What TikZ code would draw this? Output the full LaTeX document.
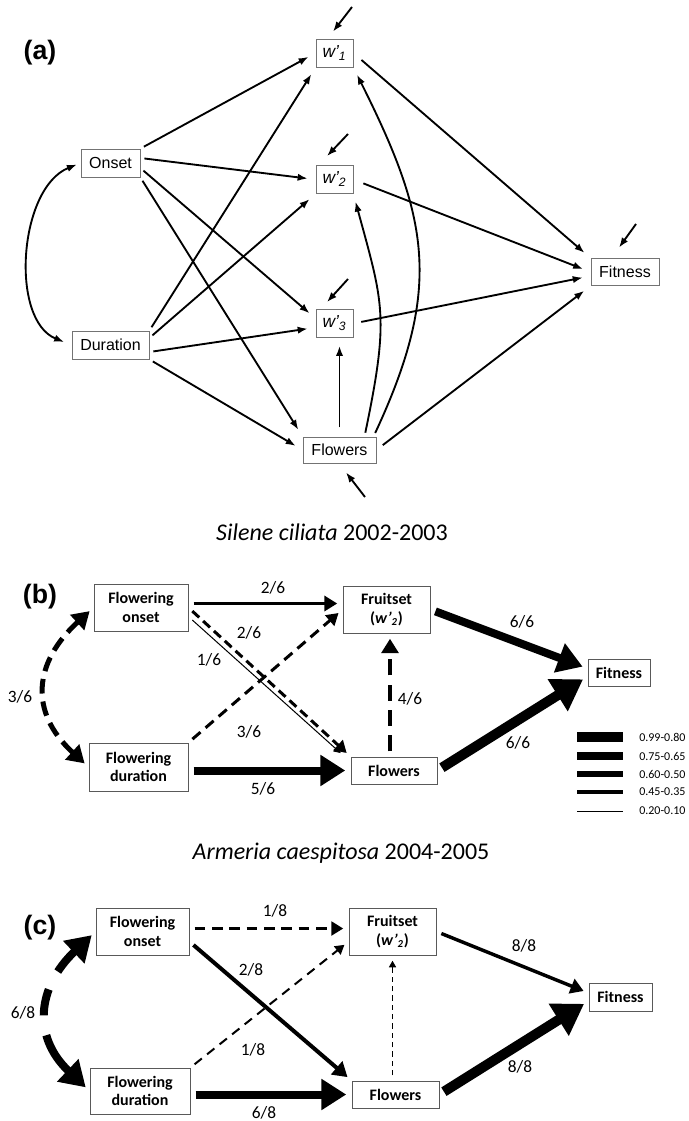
\documentclass[tikz,border=0pt]{standalone}
\usepackage{fontspec}
\setmainfont{Carlito}
\newfontfamily\arialfont{Liberation Sans}
\usetikzlibrary{arrows.meta,calc}

\tikzset{
  vara/.style={draw=black!55, line width=0.6pt, inner sep=0pt, minimum height=21pt, font=\arialfont\fontsize{12}{14}\selectfont},
  varb/.style={draw=black!65, line width=0.6pt, inner sep=0pt, align=center, font=\bfseries\fontsize{12}{14}\selectfont},
  patha/.style={line width=1.4pt, -{Latex[length=7.5pt,width=5.5pt]}, shorten <=3pt, shorten >=6pt},
  pathb/.style={-{Triangle[length=3pt 2.6,width=3pt 3.2]}, shorten <=4pt, shorten >=4pt},
  dblb/.style={{Triangle[length=3pt 2.6,width=3pt 3.2]}-{Triangle[length=3pt 2.6,width=3pt 3.2]}, shorten <=4pt, shorten >=4pt},
  coef/.style={font=\fontsize{13}{15}\selectfont},
  panel/.style={font=\arialfont\bfseries\fontsize{20}{24}\selectfont},
  species/.style={font=\fontsize{18}{21}\selectfont},
}

\begin{document}
\begin{tikzpicture}[x=0.75pt,y=-0.75pt]
\fill[white] (0,0) rectangle (689,1121);
\useasboundingbox (0,0) rectangle (689,1121);

% (a)
\node[panel] (pa) at (40,53) {(a)};
\node[vara, minimum width=27.75pt, font=\arialfont\fontsize{13}{15}\selectfont] (w1) at (334.5,53) {\itshape w\textquoteright\textsubscript{1}};
\node[vara, minimum width=27.75pt, font=\arialfont\fontsize{13}{15}\selectfont] (w2) at (334.5,179.5) {\itshape w\textquoteright\textsubscript{2}};
\node[vara, minimum width=27.75pt, font=\arialfont\fontsize{13}{15}\selectfont] (w3) at (334.5,323.5) {\itshape w\textquoteright\textsubscript{3}};
\node[vara, minimum width=44.25pt] (onset) at (110.5,163) {Onset};
\node[vara, minimum width=57.75pt] (duration) at (110.5,345) {Duration};
\node[vara, minimum width=54.75pt, minimum height=19.5pt] (flowers) at (339.5,450) {Flowers};
\node[vara, minimum width=51pt, minimum height=20.25pt] (fitness) at (625,272) {Fitness};

\draw[patha] (onset.north east) -- (w1.west);
\draw[patha] ($(onset.east)+(0,-5)$) -- (w2.west);
\draw[patha] ($(onset.east)+(0,5)$) -- ($(w3.west)+(0,-5)$);
\draw[patha] (onset.south east) -- (flowers.north west);
\draw[patha] (duration.north east) -- (w1.south west);
\draw[patha] ($(duration.east)+(0,-7)$) -- (w2.south west);
\draw[patha] ($(duration.east)+(0,7)$) -- ($(w3.west)+(0,4)$);
\draw[patha] (duration.south east) -- (flowers.west);
\draw[patha, shorten <=7pt] (flowers.north) -- (flowers.north |- w3.south);
\draw[patha] ($(flowers.north)+(25,0)$) .. controls +(25,-120) and +(30,110) .. (w2.south east);
\draw[patha] ($(flowers.north)+(34,0)$) .. controls +(70,-150) and +(75,150) .. (w1.south east);
\draw[patha, shorten <=8pt] (w1.east) -- (fitness.north west);
\draw[patha, shorten <=8pt] (w2.east) -- (fitness.west);
\draw[patha, shorten <=6pt] (w3.east) -- ($(fitness.west)+(0,4)$);
\draw[patha, shorten <=6pt] (flowers.east) -- (fitness.south west);
\draw[patha, <->, >={Latex[length=7.5pt,width=5.5pt]}] (onset.west) .. controls +(-62,25) and +(-62,-25) .. (duration.west);

\coordinate (ew1) at (352,7);
\coordinate (ew2) at (348,134);
\coordinate (ew3) at (348,279);
\coordinate (efit) at (636,224);
\coordinate (eflo) at (365,497);
\draw[patha, shorten <=0pt, shorten >=0pt] (ew1) -- ($(w1.north)+(-1.5,-7)$);
\draw[patha, shorten <=0pt, shorten >=0pt] (ew2) -- ($(w2.north)+(-7.5,-9)$);
\draw[patha, shorten <=0pt, shorten >=0pt] (ew3) -- ($(w3.north)+(-7.5,-7)$);
\draw[patha, shorten <=0pt, shorten >=0pt] (efit) -- ($(fitness.north)+(-6,-10.5)$);
\draw[patha, shorten <=0pt, shorten >=0pt] (eflo) -- ($(flowers.south)+(6.5,9)$);

% (b)
\node[species] (spb) at (332,532) {\textit{Silene ciliata} 2002-2003};
\node[panel] (pb) at (40,597) {(b)};
\node[varb, minimum width=70.5pt, minimum height=35.25pt] (bonset) at (141,607.5) {Flowering\\onset};
\node[varb, minimum width=65.25pt, minimum height=35.25pt] (bfruit) at (386.5,609.5) {Fruitset\\(\textit{w\textquoteright\textsubscript{2}})};
\node[varb, minimum width=46.5pt, minimum height=20.25pt] (bfit) at (619,672.5) {Fitness};
\node[varb, minimum width=74.25pt, minimum height=36pt] (bdur) at (138.5,767) {Flowering\\duration};
\node[varb, minimum width=64.5pt, minimum height=20.25pt] (bflow) at (394,770.5) {Flowers};

\draw[pathb, line width=2.6pt] ($(bonset.east)+(0,-4)$) -- ($(bfruit.west)+(0,-6)$);
\draw[pathb, line width=2.25pt, dash pattern=on 7pt off 4pt] (bonset.east) -- (bflow.north west);
\draw[pathb, line width=0.75pt] ($(bonset.east)+(0,9)$) -- ($(bflow.north west)+(-6,0)$);
\draw[pathb, line width=2.25pt, dash pattern=on 8pt off 5pt] (bdur.north east) -- (bfruit.west);
\draw[pathb, line width=6pt] (bdur.east |- bflow.west) -- (bflow.west);
\draw[pathb, line width=3pt, dash pattern=on 12pt off 7pt] ($(bfruit.south |- bflow.north)+(3.5,0)$) -- ($(bfruit.south)+(3.5,0)$);
\draw[pathb, line width=6pt] (bfruit.east) -- ($(bfit.west)+(0,-4)$);
\draw[pathb, line width=7.5pt] (bflow.east) -- ($(bfit.west)+(0,4)$);
\draw[dblb, line width=3.75pt, dash pattern=on 11pt off 6pt] (bonset.west) .. controls +(-60,55) and +(-60,-55) .. (bdur.west);

\node[coef] (lb1) at (273,588) {2/6};
\node[coef] (lb2) at (249,633) {2/6};
\node[coef] (lb3) at (209,660) {1/6};
\node[coef] (lb4) at (249,732) {3/6};
\node[coef] (lb5) at (263,789) {5/6};
\node[coef] (lb6) at (410,699) {4/6};
\node[coef] (lb7) at (522,622) {6/6};
\node[coef] (lb8) at (518,743) {6/6};
\node[coef] (lb9) at (20,697) {3/6};

\foreach \y/\w/\t [count=\i] in {737/7.5pt/0.99-0.80, 756/6pt/0.75-0.65, 774/4.5pt/0.60-0.50, 792/2.6pt/0.45-0.35, 811/0.75pt/0.20-0.10} {
  \coordinate (lg\i w) at (577,\y);
  \coordinate (lg\i e) at (623,\y);
  \draw[line width=\w] (lg\i w) -- (lg\i e);
  \node[anchor=west, inner sep=0pt, font=\fontsize{9}{11}\selectfont] (lgt\i) at (639,\y) {\t};
}

% (c)
\node[species] (spc) at (341,853) {\textit{Armeria caespitosa} 2004-2005};
\node[panel] (pc) at (40,928) {(c)};
\node[varb, minimum width=69.75pt, minimum height=35.25pt] (conset) at (142.5,931.5) {Flowering\\onset};
\node[varb, minimum width=65.25pt, minimum height=35.25pt] (cfruit) at (392.5,931.5) {Fruitset\\(\textit{w\textquoteright\textsubscript{2}})};
\node[varb, minimum width=47.25pt, minimum height=21pt] (cfit) at (620.5,997) {Fitness};
\node[varb, minimum width=75pt, minimum height=34.5pt] (cdur) at (140,1091) {Flowering\\duration};
\node[varb, minimum width=65.25pt, minimum height=20.25pt] (cflow) at (395.5,1094.5) {Flowers};

\draw[pathb, line width=2.25pt, dash pattern=on 8pt off 5pt] ($(conset.east)+(0,-3)$) -- ($(cfruit.west)+(0,-3)$);
\draw[pathb, line width=3pt] ($(conset.east)+(0,10)$) -- (cflow.north west);
\draw[pathb, line width=1.5pt, dash pattern=on 7pt off 5pt] (cdur.north east) -- ($(cfruit.west)+(0,10)$);
\draw[pathb, line width=6pt] (cdur.east |- cflow.west) -- (cflow.west);
\draw[pathb, line width=0.75pt, dash pattern=on 4pt off 3pt] (cfruit.south |- cflow.north) -- (cfruit.south);
\draw[pathb, line width=2.6pt] (cfruit.east) -- ($(cfit.west)+(0,-4)$);
\draw[pathb, line width=7.5pt] (cflow.east) -- ($(cfit.west)+(0,4)$);
\draw[dblb, line width=6pt, dash pattern=on 20pt off 15pt on 20pt off 15pt on 60pt] (conset.west) .. controls +(-58,55) and +(-58,-55) .. (cdur.west);

\node[coef] (lc1) at (275,911) {1/8};
\node[coef] (lc2) at (251,970) {2/8};
\node[coef] (lc3) at (253,1050) {1/8};
\node[coef] (lc4) at (264,1113) {6/8};
\node[coef] (lc5) at (524,946) {8/8};
\node[coef] (lc6) at (520,1067) {8/8};
\node[coef] (lc7) at (23,1013) {6/8};

\end{tikzpicture}
\end{document}
